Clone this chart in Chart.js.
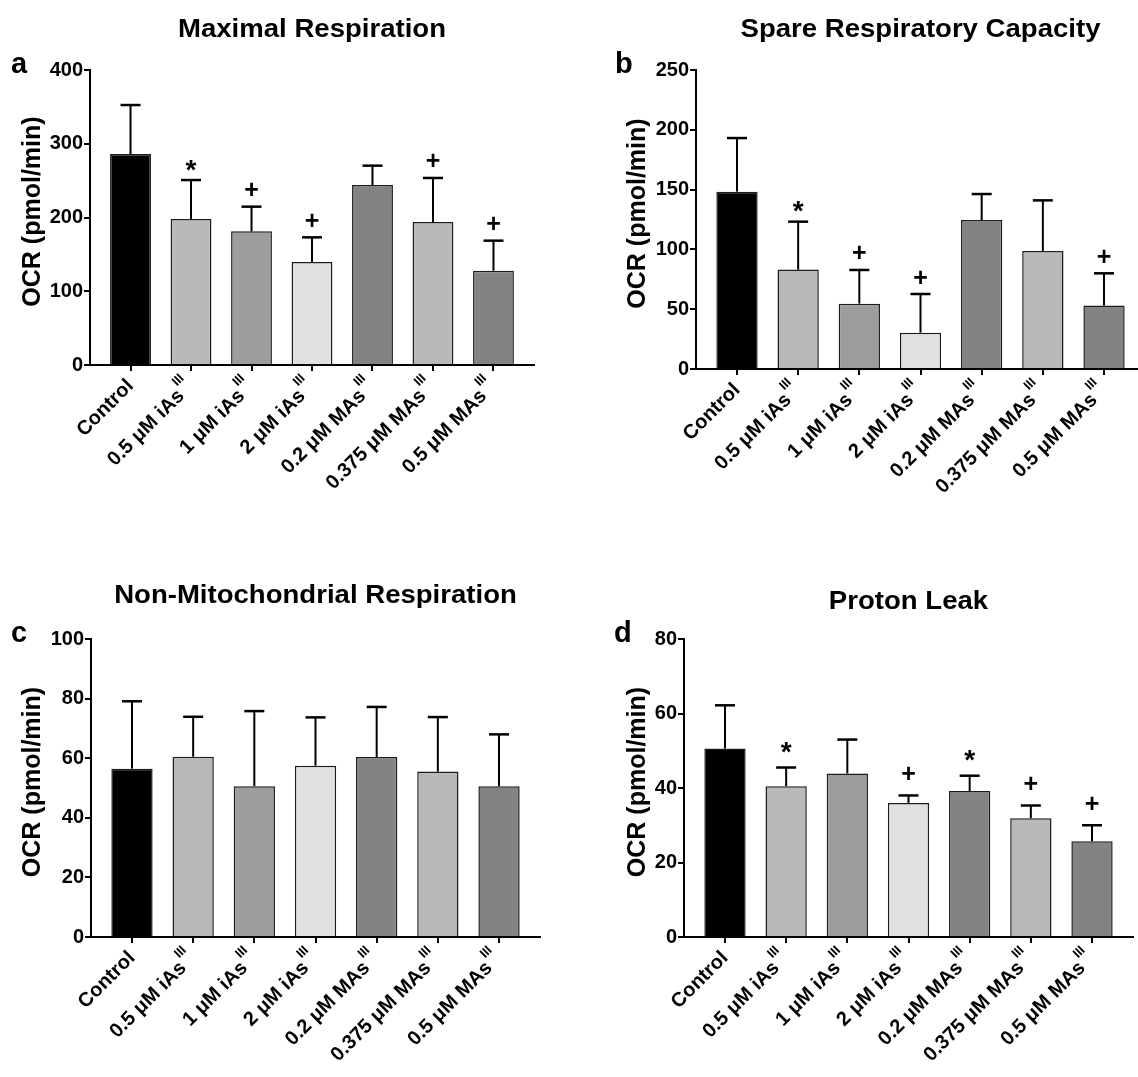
<!DOCTYPE html>
<html>
<head>
<meta charset="utf-8">
<script src="https://cdn.jsdelivr.net/npm/chart.js@4.4.0/dist/chart.umd.min.js"></script>
<style>
html,body{margin:0;padding:0;background:#fff;overflow:hidden;width:1138px;height:1077px;position:relative;}
.p{position:absolute;}
</style>
</head>
<body>
<div class="p" style="left:0;top:0;width:569px;height:538px"><canvas id="ca"></canvas></div>
<div class="p" style="left:569px;top:0;width:580px;height:538px"><canvas id="cb"></canvas></div>
<div class="p" style="left:0;top:538px;width:569px;height:539px"><canvas id="cc"></canvas></div>
<div class="p" style="left:569px;top:538px;width:569px;height:539px"><canvas id="cd"></canvas></div>
<script>
// ---------- DATA ----------
const categories = ['Control', '0.5 μM iAs', '1 μM iAs', '2 μM iAs', '0.2 μM MAs', '0.375 μM MAs', '0.5 μM MAs'];
const categorySup = ['', 'III', 'III', 'III', 'III', 'III', 'III'];
const barColors = ['#000000', '#b8bab9', '#9c9d9c', '#dfe1e0', '#838383', '#b8bab9', '#838383'];

const maximalMean = [286.1, 198.0, 181.2, 139.7, 244.1, 193.9, 127.9];
const maximalSD   = [66.4, 52.8, 33.5, 33.4, 26.2, 59.7, 40.7];
const maximalSig  = ['', '*', '+', '+', '', '+', '+'];
const maximalTicks = [0, 100, 200, 300, 400];

const spareMean = [148.3, 83.1, 54.6, 30.4, 124.6, 98.7, 53.0];
const spareSD   = [44.8, 40.1, 28.2, 32.3, 21.7, 42.3, 27.0];
const spareSig  = ['', '*', '+', '+', '', '', '+'];
const spareTicks = [0, 50, 100, 150, 200, 250];

const nonMitoMean = [56.5, 60.5, 50.6, 57.5, 60.4, 55.5, 50.6];
const nonMitoSD   = [22.6, 13.4, 25.2, 16.2, 16.8, 18.3, 17.4];
const nonMitoSig  = ['', '', '', '', '', '', ''];
const nonMitoTicks = [0, 20, 40, 60, 80, 100];

const leakMean = [50.6, 40.5, 43.9, 36.0, 39.2, 31.9, 25.7];
const leakSD   = [11.6, 5.0, 9.1, 2.0, 4.1, 3.4, 4.3];
const leakSig  = ['', '*', '', '+', '*', '+', '+'];
const leakTicks = [0, 20, 40, 60, 80];

const yAxisTitle = 'OCR (pmol/min)';
// ---------- END DATA ----------

const FONT = "'Liberation Sans', Arial, Helvetica, sans-serif";

function makePanel(canvasId, title, letter, mean, sd, sig, ticks, lay) {
  const canvas = document.getElementById(canvasId);
  const W = canvas.parentNode.clientWidth, H = canvas.parentNode.clientHeight;
  const ymax = ticks[ticks.length - 1];
  const step = ticks[1] - ticks[0];

  const deco = {
    id: 'deco_' + canvasId,
    afterDatasetsDraw(chart) {
      const ctx = chart.ctx;
      const ys = chart.scales.y;
      const meta = chart.getDatasetMeta(0);
      ctx.save();
      ctx.strokeStyle = '#000';
      ctx.fillStyle = '#000';
      for (let i = 0; i < mean.length; i++) {
        const x = meta.data[i].x;
        const yb = ys.getPixelForValue(mean[i]);
        const yt = ys.getPixelForValue(mean[i] + sd[i]);
        ctx.lineWidth = 2;
        ctx.beginPath(); ctx.moveTo(x, yb); ctx.lineTo(x, yt); ctx.stroke();
        ctx.lineWidth = 2.5;
        ctx.beginPath(); ctx.moveTo(x - 10, yt); ctx.lineTo(x + 10, yt); ctx.stroke();
        if (sig[i]) {
          ctx.textAlign = 'center';
          ctx.textBaseline = 'alphabetic';
          const c = yt - lay.markOffset;
          if (sig[i] === '*') {
            ctx.font = 'bold 28px ' + FONT;
            ctx.fillText('*', x, c + 15.5);
          } else {
            ctx.font = 'bold 25px ' + FONT;
            ctx.fillText(sig[i], x, c + 8.5);
          }
        }
      }
      ctx.restore();
    },
    afterDraw(chart) {
      const ctx = chart.ctx;
      const xs = chart.scales.x;
      const area = chart.chartArea;
      ctx.save();
      ctx.fillStyle = '#000';
      // category labels
      for (let i = 0; i < categories.length; i++) {
        const tx = xs.getPixelForValue(i);
        ctx.save();
        ctx.translate(tx, area.bottom + 18);
        ctx.rotate(-Math.PI / 4);
        ctx.font = 'bold 20px ' + FONT;
        ctx.textBaseline = 'middle';
        ctx.textAlign = 'right';
        const hasSup = !!categorySup[i];
        ctx.fillText(categories[i], hasSup ? -14 : 0, 0);
        if (hasSup) {
          ctx.font = 'bold 13px ' + FONT;
          ctx.textAlign = 'center';
          ctx.fillText(categorySup[i], -7, -11);
        }
        ctx.restore();
      }
      // title
      ctx.save();
      ctx.translate((area.left + area.right) / 2, lay.titleY);
      ctx.scale(1.06, 1);
      ctx.font = 'bold 26px ' + FONT;
      ctx.textAlign = 'center';
      ctx.textBaseline = 'alphabetic';
      ctx.fillText(title, 0, 0);
      ctx.restore();
      // panel letter
      ctx.font = 'bold 29px ' + FONT;
      ctx.textAlign = 'left';
      ctx.textBaseline = 'alphabetic';
      ctx.fillText(letter, lay.letterX, lay.letterY);
      // y title
      ctx.save();
      ctx.translate(lay.yTitleX, (area.top + area.bottom) / 2 - 6);
      ctx.rotate(-Math.PI / 2);
      ctx.font = 'bold 25px ' + FONT;
      ctx.textAlign = 'center';
      ctx.textBaseline = 'middle';
      ctx.fillText(yAxisTitle, 0, 0);
      ctx.restore();
      ctx.restore();
    }
  };

  return new Chart(canvas, {
    type: 'bar',
    data: {
      datasets: [{
        data: mean.map((v, i) => ({ x: i, y: v })),
        backgroundColor: barColors,
        borderColor: '#1c1c1c',
        borderWidth: 1.5,
        barPercentage: 0.675,
        categoryPercentage: 1.0
      }]
    },
    options: {
      responsive: true,
      maintainAspectRatio: false,
      animation: false,
      layout: { padding: { top: lay.top, right: W - lay.right, left: 0, bottom: 0 } },
      plugins: { legend: { display: false }, tooltip: { enabled: false }, title: { display: false } },
      scales: {
        x: {
          type: 'linear',
          offset: false,
          min: -0.67,
          max: categories.length - 1 + 0.67,
          afterBuildTicks(scale) { scale.ticks = categories.map((c, i) => ({ value: i })); },
          afterFit(scale) { scale.height = H - lay.bottom; },
          ticks: { display: false },
          grid: { display: true, offset: false, drawOnChartArea: false, drawTicks: true, tickLength: 6, color: '#000', lineWidth: 2 },
          border: { display: true, color: '#000', width: 2 }
        },
        y: {
          min: 0,
          max: ymax,
          afterBuildTicks(scale) { scale.ticks = ticks.map(v => ({ value: v })); },
          afterFit(scale) { scale.width = lay.left; },
          ticks: { stepSize: step, color: '#000', padding: 1, font: { family: FONT, size: 20, weight: 'bold' } },
          grid: { display: true, drawOnChartArea: false, drawTicks: true, tickLength: 6, color: '#000', lineWidth: 2 },
          border: { display: true, color: '#000', width: 2 }
        }
      }
    },
    plugins: [deco]
  });
}

makePanel('ca', 'Maximal Respiration', 'a', maximalMean, maximalSD, maximalSig, maximalTicks,
  { left: 90, top: 70, right: 534, bottom: 365, yTitleX: 33, letterX: 11, letterY: 73, titleY: 37, markOffset: 17 });
makePanel('cb', 'Spare Respiratory Capacity', 'b', spareMean, spareSD, spareSig, spareTicks,
  { left: 127, top: 70, right: 576, bottom: 369, yTitleX: 69, letterX: 46, letterY: 73, titleY: 37, markOffset: 17 });
makePanel('cc', 'Non-Mitochondrial Respiration', 'c', nonMitoMean, nonMitoSD, nonMitoSig, nonMitoTicks,
  { left: 91, top: 101, right: 540, bottom: 399, yTitleX: 33, letterX: 11, letterY: 104, titleY: 65, markOffset: 17 });
makePanel('cd', 'Proton Leak', 'd', leakMean, leakSD, leakSig, leakTicks,
  { left: 115, top: 101, right: 564, bottom: 399, yTitleX: 69, letterX: 45, letterY: 104, titleY: 71, markOffset: 22 });
</script>
</body>
</html>
